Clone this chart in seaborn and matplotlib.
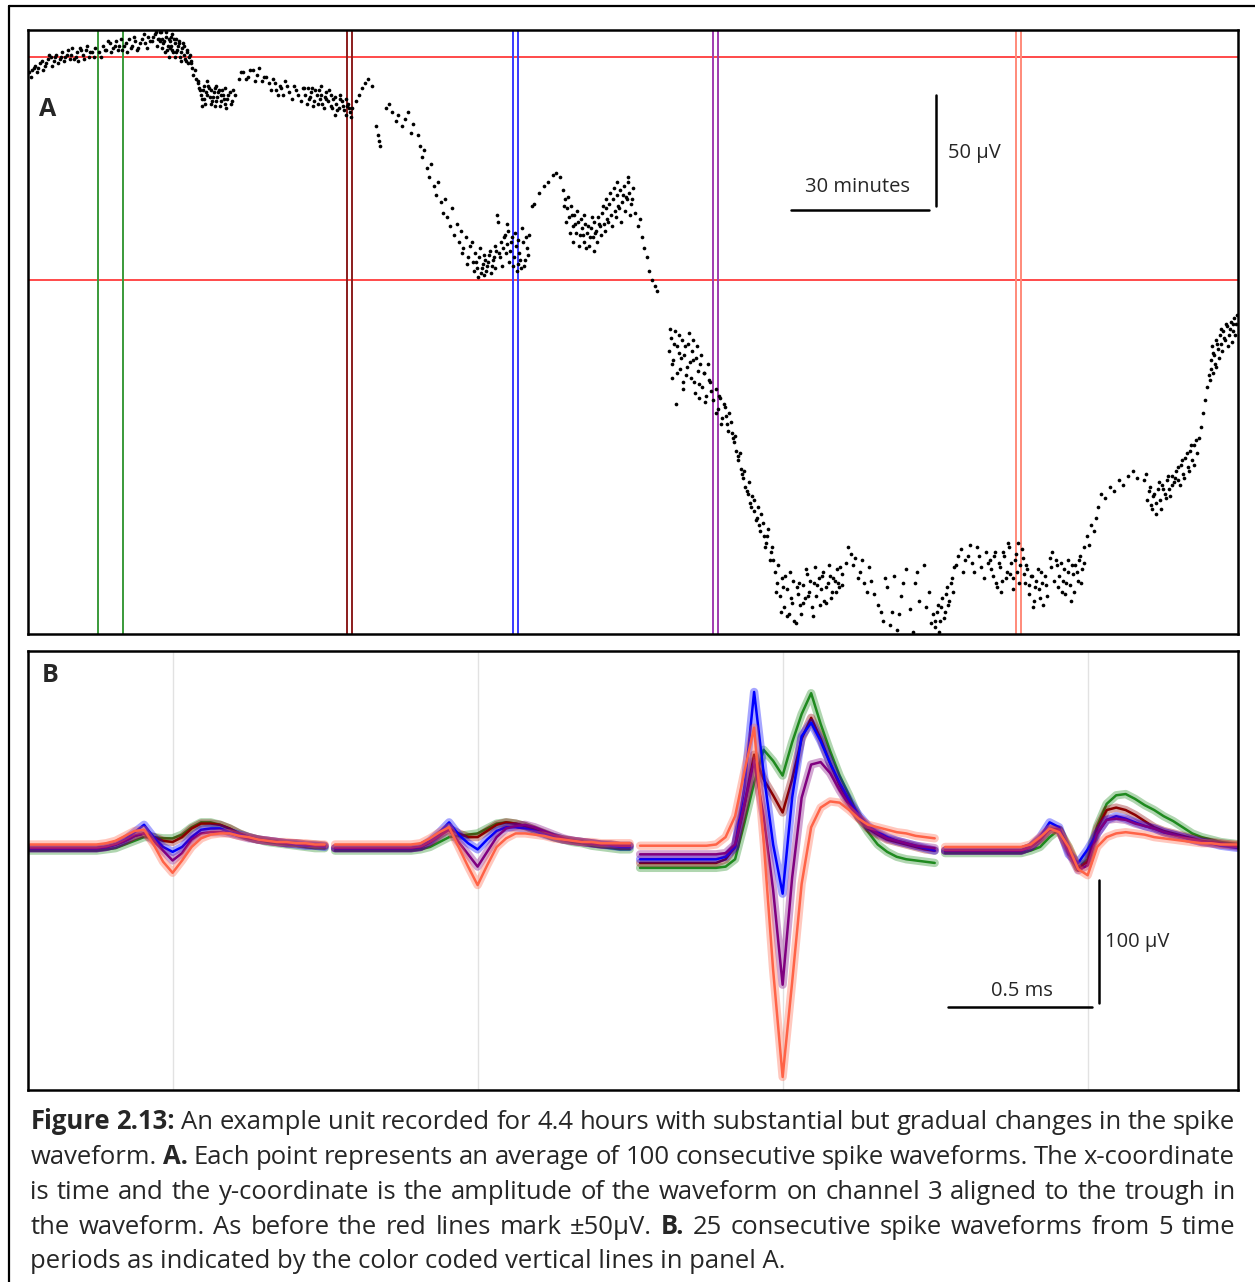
import numpy as np
import pandas as pd
import matplotlib
matplotlib.use('Agg')
import matplotlib.pyplot as plt
import seaborn as sns
from matplotlib.lines import Line2D

# --- panel A: drift of the trough amplitude over 4.4 hours ---
drift_min = [
    0.3, 0.8, 1.5, 2.2, 3.0, 3.6, 4.3, 5.0, 5.6, 6.2, 6.9, 7.5, 8.1, 8.8, 9.4, 10.0, 10.7, 11.3, 12.0, 12.6, 13.3, 14.0, 14.6,
    15.5, 16.3, 17.0, 17.8, 18.5, 19.2, 19.9, 20.6, 21.3, 22.0, 22.7, 23.4, 24.1, 24.8, 25.5, 26.2,
    27.0, 27.6, 28.3, 29.0, 29.5, 29.8, 30.0, 30.5, 30.8, 31.0, 31.5, 31.8, 32.0, 32.4, 32.8, 33.0, 33.2, 33.6, 34.0, 34.4, 34.8, 35.2, 35.6,
    35.8, 36.1, 36.4, 36.7, 37.0, 37.3, 37.7, 38.1, 38.5, 38.9, 39.3, 39.7, 40.1, 40.5, 40.9, 41.3, 41.7, 42.1, 42.5, 43.0, 43.5, 44.0, 44.6, 45.2,
    46.0, 47.0, 48.0, 49.0, 50.0, 51.0, 52.0, 53.0, 53.8, 54.5, 55.3, 56.0, 57.0, 58.0, 59.0, 60.0,
    60.5, 61.2, 61.8, 62.0, 62.4, 63.0, 63.6, 64.2, 64.8, 65.0, 65.4, 66.0, 66.6, 67.2, 67.8, 68.0, 68.4, 69.0, 69.6, 70.2, 70.8,
    71.5, 72.2, 72.8, 73.5, 74.2, 75.0, 76.0, 76.3, 76.6, 76.9, 78.0, 78.8, 79.5, 80.2, 80.8, 81.5, 82.3, 83.0, 83.5,
    84.0, 85.0, 85.5, 86.0, 86.5, 87.0, 87.5, 88.0, 88.5, 89.0, 89.5, 90.0, 90.5, 91.0, 91.5, 92.0, 92.5, 93.0, 93.5, 94.0, 94.5, 95.0, 95.5, 96.0, 96.5,
    97.0, 97.5, 98.0, 98.4, 98.8, 99.2, 99.6, 100.0, 100.4, 100.8, 101.2, 101.6, 102.0, 102.3, 102.5, 102.8, 103.2, 103.6,
    104.0, 104.4, 104.8, 105.2, 105.6, 106.0, 106.4, 106.8, 107.2, 107.6, 108.0, 108.4, 108.8, 109.2,
    110.0, 110.5, 111.5, 112.5, 113.5, 114.5, 115.3, 116.0,
    116.8, 117.2, 117.6, 118.0, 118.4, 118.8, 119.2, 119.6, 120.0, 120.4, 120.8, 121.2, 121.6, 122.0, 122.4, 122.8, 123.2, 123.6, 124.0, 124.4, 124.8,
    125.2, 125.6, 126.0, 126.4, 126.8, 127.2, 127.6, 128.0, 128.4, 128.8, 129.2, 129.6, 130.0, 130.4, 130.8, 131.2, 131.6, 132.0,
    132.5, 133.0, 133.5, 134.0, 134.5, 135.0, 135.5, 136.2, 136.8, 137.3,
    139.8, 140.3, 140.8, 141.2, 141.4, 141.7, 142.2, 142.6, 143.1, 143.5, 144.0, 144.4, 144.9, 145.3, 145.8, 146.2, 146.7, 147.1, 147.6, 148.0, 148.5, 149.0,
    149.5, 150.0, 150.5, 151.0, 151.5, 152.0, 152.5, 153.0, 153.5, 154.0, 154.5, 155.0, 155.5, 156.0, 156.5, 157.0, 157.5, 158.0, 158.5, 159.0,
    159.5, 160.0, 160.5, 161.0, 161.5, 162.0, 162.5,
    163.0, 163.5, 164.0, 164.5, 165.0, 165.5, 166.0, 166.5, 167.0, 167.5, 168.0, 168.5, 169.0, 169.5, 170.0, 170.5, 171.0, 171.5, 172.0, 172.5,
    173.0, 173.5, 174.0, 174.5, 175.0, 175.5, 176.0, 176.5, 177.0, 177.5,
    178.5, 179.5, 180.5, 181.5, 182.5, 183.5, 184.5,
    185.5, 186.5, 187.5, 188.5, 189.0, 189.5, 190.5, 191.5, 192.5, 193.5, 194.5, 195.5, 196.5, 197.0,
    197.5, 198.0, 198.5, 199.0, 199.5, 200.0, 200.5, 201.0, 201.5, 202.0,
    202.5, 203.5, 204.5, 205.5, 206.5, 207.5, 208.5, 209.5,
    210.0, 210.5, 211.0, 211.5, 212.0, 212.5, 213.0, 213.5, 214.0, 214.5, 215.0, 215.5, 216.0, 216.5, 217.0, 217.5, 218.0, 218.5, 219.0, 219.5,
    220.0, 220.5, 221.0, 221.5, 222.0,
    223.0, 223.5, 224.5, 225.0, 225.5, 226.0, 226.5, 227.0, 227.5, 228.0, 228.5, 229.0, 229.5, 230.0, 230.5,
    231.0, 231.5, 232.0, 232.5, 233.0, 233.5, 234.0, 235.0, 236.0, 237.0, 238.0, 239.0, 240.0, 241.0, 242.0, 243.5, 244.0,
    244.5, 245.0, 245.5, 246.0, 246.5, 247.0, 247.5, 248.0, 248.5, 249.0, 249.5, 250.0,
    250.5, 251.0, 251.5, 252.0, 252.5, 253.0, 253.5, 254.0, 254.5, 255.0, 255.5, 256.0, 256.4, 256.8, 257.2, 257.6,
    258.0, 258.4, 258.8, 259.2, 259.6, 260.0, 260.4, 260.8, 261.2, 261.6, 262.0, 262.4, 262.8, 263.2, 263.6,
]
drift_uv = [
    43, 44, 46, 45, 48, 46, 49, 50, 48, 51, 49, 52, 50, 53, 51, 49, 52, 54, 51, 53, 50, 52, 54,
    52, 55, 53, 56, 54, 57, 55, 53, 56, 58, 55, 57, 54, 58, 56, 59,
    57, 60, 58, 61, 56, 52, 59, 55, 50, 57, 53, 58, 56, 52, 55, 57, 50, 54, 51, 48, 53, 50, 47,
    45, 42, 44, 40, 38, 36, 33, 35, 31, 34, 37, 32, 30, 34, 28, 32, 35, 30, 33, 29, 31, 34, 30, 33,
    40, 43, 41, 44, 42, 39, 41, 35, 38, 33, 36, 39, 34, 37, 33, 36,
    33, 31, 34, 36, 30, 33, 31, 29, 32, 34, 30, 28, 31, 29, 27, 33, 30, 26, 28, 25, 27,
    30, 33, 36, 38, 40, 37, 19, 15, 12, 10, 27, 29, 25, 21, 24, 19, 22, 25, 16,
    20, 15, 10, 5, 8, 0, -4, 2, -8, -12, -6, -15, -20, -14, -22, -26, -18, -30, -25, -33, -28, -36, -31, -40, -35,
    -42, -38, -45, -40, -47, -43, -39, -46, -42, -37, -44, -40, -35, -21, -24, -38, -33, -36,
    -30, -34, -28, -37, -31, -40, -35, -43, -38, -45, -33, -41, -36, -30,
    -17, -16, -11, -8, -6, -3, -2, -4,
    -10, -14, -18, -22, -17, -26, -21, -29, -24, -30, -27, -33, -25, -29, -35, -27, -31, -24, -28, -22, -26,
    -20, -25, -18, -23, -16, -21, -14, -19, -12, -17, -10, -15, -8, -13, -6, -11, -16, -9,
    -20, -26, -23, -31, -36, -40, -46, -50, -53, -55,
    -82, -76, -86, -73, -106, -80, -90, -77, -84, -93, -79, -87, -82, -96, -85, -91, -88, -98, -92, -102, -95, -100,
    -104, -99, -108, -103, -112, -107, -115, -110, -119, -123, -127, -131, -135, -139, -143, -146, -150, -147, -154, -157,
    -160, -155, -165, -168, -162, -172, -176,
    -181, -186, -192, -184, -197, -189, -200, -193, -185, -204, -191, -196, -187, -193, -182, -190, -197, -186, -192, -184,
    -189, -181, -195, -186, -183, -190, -185, -180, -188, -182,
    -177, -173, -175, -181, -186, -179, -191,
    -196, -203, -188, -199, -183, -207, -192, -180, -198, -186, -194, -178, -190, -204,
    -200, -206, -196, -203, -193, -199, -188, -194, -184, -179,
    -178, -171, -176, -169, -181, -174, -184, -177,
    -176, -183, -172, -188, -179, -185, -174, -181, -170, -177, -184, -173, -168, -178, -175, -186, -180, -191, -183, -194,
    -185, -189, -181, -196, -187,
    -175, -172, -178, -183, -190, -180, -186, -176, -194, -182, -178, -185, -174, -180, -170,
    -165, -169, -160, -163, -157, -152, -146, -148, -143, -145, -140, -142, -138, -136, -139, -140, -137,
    -145, -151, -147, -155, -144, -149, -142, -146, -140, -144, -138, -141,
    -136, -140, -133, -137, -130, -134, -127, -131, -124, -128, -121, -116, -110, -104, -98, -93,
    -86, -80, -84, -77, -81, -75, -79, -73, -77, -71, -75, -69, -73, -67, -70,
]

# more points read from the dense clusters
cluster_min = [
    0.6, 1.2, 1.9, 2.6, 3.3, 4.0, 4.6, 5.3, 5.9, 6.6, 7.2, 7.8, 8.5, 9.1, 9.7, 10.4, 11.0, 11.6, 12.3, 12.9, 13.6, 14.3,
    15.9, 16.7, 17.4, 18.1, 18.9, 19.6, 20.3, 21.0, 21.7, 22.4, 23.1, 23.8, 24.5, 25.2, 25.9, 26.6,
    27.3, 27.9, 28.1, 28.6, 28.9, 29.3, 29.7, 30.2, 30.4, 30.7, 31.2, 31.4, 31.7, 32.2, 32.6, 32.9, 33.4, 33.8, 34.2, 34.6,
    35.0, 35.4, 28.8, 30.9, 32.1, 33.3, 34.1, 35.5, 31.1, 29.2,
    37.1, 37.5, 37.9, 38.3, 38.7, 39.1, 39.5, 39.9, 40.3, 40.7, 41.1, 41.5, 41.9, 42.3, 42.7, 43.2, 43.7, 44.2, 44.8,
    38.0, 39.0, 40.0, 41.0, 42.0, 43.0,
    46.5, 47.5, 48.5, 49.5, 50.5, 51.5, 52.5, 53.4, 54.2, 54.9, 55.7, 56.5, 57.5, 58.5, 59.5,
    60.2, 60.8, 61.5, 62.1, 62.7, 63.3, 63.9, 64.5, 65.1, 65.7, 66.3, 66.9, 67.5, 68.1, 68.7, 69.3, 69.9, 70.5,
    61.0, 63.5, 66.2, 69.4, 70.0, 64.0, 67.0,
    94.8, 95.8, 96.8, 97.2, 97.8, 98.2, 98.6, 99.0, 99.4, 99.8, 100.2, 100.6, 101.0, 101.4, 101.8, 102.2, 103.0, 103.4, 103.8,
    104.2, 104.6, 105.0, 105.4, 105.8, 106.2, 106.6, 107.0, 107.4, 107.8, 108.2, 108.6, 109.0,
    117.0, 117.4, 117.8, 118.2, 118.6, 119.0, 119.4, 119.8, 120.2, 120.6, 121.0, 121.4, 121.8, 122.2, 122.6, 123.0, 123.4, 123.8,
    124.2, 124.6, 125.0, 125.4, 125.8, 126.2, 126.6, 127.0, 127.4, 127.8, 128.2, 128.6, 129.0, 129.4, 129.8, 130.2, 130.6, 131.0,
    131.4, 131.8,
    140.0, 140.5, 141.0, 141.5, 142.0, 142.4, 142.8, 143.3, 143.8, 144.2, 144.7, 145.1, 145.6, 146.0, 146.5, 146.9, 147.4, 147.8,
    148.3, 148.8, 140.6, 142.0, 143.0, 145.0, 146.4,
    150.2, 150.8, 151.3, 151.8, 152.3, 152.8, 153.3, 153.8, 154.3, 154.8, 155.3, 155.8, 156.3, 156.8, 157.3, 157.8, 158.3, 158.8,
    159.3, 159.8, 160.3, 160.8, 161.3, 161.8, 162.3,
    163.2, 163.7, 164.2, 164.7, 165.2, 165.7, 166.2, 166.7, 167.2, 167.7, 168.2, 168.7, 169.2, 169.7, 170.2, 170.7, 171.2, 171.7,
    172.2, 172.7, 173.2, 173.7, 174.2, 174.7, 175.2, 175.7, 176.2, 176.7, 177.2, 177.7,
    179.0, 180.0, 181.0, 182.0, 183.0, 184.0, 186.0, 187.0, 188.0, 190.0, 191.0, 193.0, 194.0, 196.0,
    197.8, 198.3, 198.8, 199.3, 199.8, 200.3, 200.8, 201.3, 201.8, 203.0, 204.0, 205.0, 206.0, 207.0, 208.0, 209.0,
    210.2, 210.8, 211.3, 211.8, 212.3, 212.8, 213.3, 213.8, 214.3, 214.8, 215.3, 215.8, 216.3, 216.8, 217.3, 217.8, 218.3, 218.8,
    219.3, 219.8, 220.3, 220.8, 221.3, 221.8, 222.3, 223.2, 223.8, 224.2, 224.8, 225.3, 225.8, 226.3, 226.8, 227.3, 227.8, 228.3,
    228.8, 229.3, 229.8, 230.3,
    244.2, 244.7, 245.2, 245.7, 246.2, 246.7, 247.2, 247.7, 248.2, 248.7, 249.2, 249.7, 250.2, 250.8, 251.3, 251.8, 252.3, 252.8,
    253.3, 253.8, 254.3, 254.8,
    258.2, 258.6, 259.0, 259.4, 259.8, 260.2, 260.6, 261.0, 261.4, 261.8, 262.2, 262.6, 263.0, 263.4, 263.8, 257.9, 258.5, 259.1,
]
cluster_uv = [
    41, 45, 43, 47, 44, 47, 51, 46, 50, 47, 50, 48, 51, 49, 54, 50, 48, 53, 49, 55, 52, 50,
    50, 53, 57, 52, 55, 53, 58, 55, 52, 54, 59, 53, 56, 60, 54, 57,
    59, 61, 55, 58, 61, 54, 57, 61, 53, 58, 55, 60, 52, 58, 53, 56, 52, 56, 49, 52,
    47, 51, 57, 54, 50, 48, 55, 48, 59, 58,
    39, 35, 31, 37, 29, 33, 36, 29, 32, 36, 30, 34, 28, 35, 31, 27, 33, 29, 35,
    28, 39, 35, 37, 33, 36,
    43, 40, 44, 39, 45, 41, 38, 40, 35, 37, 33, 37, 31, 35, 30,
    36, 29, 32, 28, 35, 29, 33, 27, 31, 35, 27, 32, 26, 31, 28, 24, 29, 23,
    36, 35, 33, 31, 27, 37, 24,
    -38, -43, -33, -46, -42, -49, -36, -45, -48, -41, -44, -39, -47, -41, -45, -37, -40, -44, -31,
    -38, -25, -42, -33, -44, -29, -46, -32, -41, -27, -44, -31, -39,
    -17, -24, -13, -29, -21, -33, -25, -19, -35, -23, -30, -21, -36, -26, -31, -22, -37, -29,
    -33, -25, -30, -17, -28, -14, -24, -11, -26, -9, -22, -6, -18, -24, -12, -19, -14, -4,
    -21, -14,
    -72, -88, -79, -92, -75, -85, -96, -80, -89, -74, -94, -86, -101, -80, -97, -84, -92, -105,
    -88, -96, -94, -83, -99, -77, -103,
    -110, -102, -115, -106, -111, -118, -114, -121, -120, -129, -128, -137, -136, -145, -141, -152, -149, -158,
    -152, -163, -159, -170, -165, -176, -170,
    -190, -178, -199, -188, -183, -201, -181, -195, -203, -188, -186, -200, -195, -180, -192, -185, -201, -179,
    -187, -196, -183, -194, -188, -178, -193, -184, -190, -186, -179, -187,
    -170, -178, -184, -176, -190, -185, -199, -184, -205, -200, -186, -208, -181, -197,
    -203, -199, -208, -197, -202, -191, -196, -186, -190, -174, -181, -174, -177, -170, -179, -172,
    -180, -174, -186, -177, -190, -172, -184, -168, -182, -189, -176, -181, -186, -171, -182, -178, -187, -183,
    -197, -188, -180, -193, -186, -183, -192, -179, -185, -176, -188, -177, -185, -191, -181, -187, -178, -190,
    -181, -176, -186, -177,
    -149, -143, -153, -146, -150, -141, -153, -144, -148, -138, -147, -142, -139, -134, -142, -131, -139, -128,
    -136, -124, -133, -122,
    -90, -83, -88, -79, -85, -72, -82, -76, -70, -80, -72, -78, -70, -75, -66, -95, -92, -89,
]

# the five sampling periods (start/end of each marked window, minutes)
period_names = ['p1', 'p2', 'p3', 'p4', 'p5']
period_start = [15.3, 69.6, 105.8, 149.5, 215.6]
period_end = [20.7, 70.7, 106.9, 150.6, 216.7]
marker_colors = ['#3a9a3a', '#8b1c1c', '#3a3aff', '#a03cb0', '#ff8a7a']
wave_colors = ['#1f8a1f', '#8b0000', '#0000ff', '#800080', '#ff6347']

# --- panel B: mean waveform of each period on the 4 channels (uV, 32 samples each) ---
wave_p1 = [
    [-3, -3, -3, -3, -3, -3, -3, -3, -2, -1, 2, 5, 8, 8, 7, 7, 10, 16, 20, 20, 18, 15, 11, 8, 6, 4, 3, 2, 1, 0, -1, -1],
    [-3, -3, -3, -3, -3, -3, -3, -3, -3, -2, 0, 4, 8, 9, 10, 11, 15, 19, 20, 19, 17, 14, 11, 8, 6, 4, 3, 1, 0, -1, -2, -2],
    [-17, -17, -17, -17, -17, -17, -17, -17, -17, -16, -10, 20, 52, 79, 70, 58, 85, 108, 125, 100, 78, 58, 42, 24, 12, 2, -4, -8, -10, -11, -12, -13],
    [-5, -5, -5, -5, -5, -5, -5, -5, -5, -3, 0, 8, 14, 0, -17, -10, 17, 35, 42, 43, 39, 34, 30, 25, 21, 16, 11, 8, 6, 4, 3, 2],
]
wave_p2 = [
    [-1, -1, -1, -1, -1, -1, -1, -1, 0, 2, 5, 9, 11, 8, 5, 4, 8, 15, 19, 19, 18, 15, 11, 8, 6, 5, 4, 3, 3, 2, 2, 1],
    [-1, -1, -1, -1, -1, -1, -1, -1, -1, 0, 4, 10, 15, 11, 8, 8, 13, 18, 20, 19, 17, 14, 11, 8, 6, 5, 4, 3, 2, 2, 1, 1],
    [-13, -13, -13, -13, -13, -13, -13, -13, -13, -10, 0, 35, 75, 55, 42, 28, 55, 88, 105, 88, 68, 50, 36, 24, 15, 10, 6, 4, 2, 0, -2, -3],
    [-3, -3, -3, -3, -3, -3, -3, -3, -3, 0, 6, 15, 14, -2, -17, -12, 15, 30, 32, 30, 26, 21, 16, 13, 11, 9, 7, 5, 4, 3, 2, 1],
]
wave_p3 = [
    [-1, -1, -1, -1, -1, -1, -1, -1, 0, 2, 6, 12, 18, 8, 0, -4, 0, 8, 14, 15, 15, 12, 10, 8, 6, 5, 4, 3, 2, 1, 1, 0],
    [-1, -1, -1, -1, -1, -1, -1, -1, -1, 0, 5, 12, 20, 10, 3, -2, 6, 13, 16, 16, 15, 13, 10, 8, 6, 5, 4, 3, 2, 1, 0, 0],
    [-10, -10, -10, -10, -10, -10, -10, -10, -10, -8, 0, 50, 126, 60, 2, -38, 40, 90, 101, 86, 68, 52, 38, 26, 17, 12, 8, 5, 3, 1, -1, -3],
    [-3, -3, -3, -3, -3, -3, -3, -3, -3, 0, 8, 20, 16, -6, -13, -2, 11, 22, 25, 23, 20, 17, 15, 12, 10, 8, 6, 4, 3, 1, 0, -1],
]
wave_p4 = [
    [-1, -1, -1, -1, -1, -1, -1, -1, 0, 2, 5, 9, 11, 5, -3, -11, -5, 6, 11, 12, 12, 11, 9, 7, 6, 5, 4, 3, 3, 2, 1, 1],
    [-1, -1, -1, -1, -1, -1, -1, -1, -1, 0, 4, 9, 14, 4, -6, -16, -4, 8, 15, 17, 18, 16, 13, 10, 7, 5, 4, 3, 2, 2, 1, 1],
    [-6, -6, -6, -6, -6, -6, -6, -6, -6, -5, 2, 35, 70, 25, -35, -112, -25, 40, 67, 69, 60, 46, 34, 24, 16, 11, 7, 5, 3, 1, 0, -1],
    [-3, -3, -3, -3, -3, -3, -3, -3, -3, 0, 7, 14, 14, -4, -19, -15, 11, 22, 23, 22, 19, 17, 15, 12, 10, 8, 6, 4, 3, 2, 1, 0],
]
wave_p5 = [
    [2, 2, 2, 2, 2, 2, 2, 2, 3, 5, 9, 13, 14, 2, -12, -21, -11, 0, 7, 10, 11, 11, 9, 8, 6, 5, 4, 4, 3, 3, 2, 2],
    [2, 2, 2, 2, 2, 2, 2, 2, 2, 3, 7, 12, 16, 0, -16, -31, -15, 0, 7, 11, 11, 10, 9, 7, 6, 5, 4, 4, 3, 3, 3, 3],
    [1, 1, 1, 1, 1, 1, 1, 1, 2, 8, 25, 62, 97, 5, -100, -187, -110, -30, 16, 32, 37, 36, 30, 23, 18, 16, 14, 12, 11, 9, 8, 7],
    [0, 0, 0, 0, 0, 0, 0, 0, 0, 2, 8, 15, 12, 0, -18, -23, 0, 8, 11, 12, 11, 10, 8, 7, 6, 5, 4, 3, 3, 2, 2, 2],
]
waves = [wave_p1, wave_p2, wave_p3, wave_p4, wave_p5]

sample_ms = 0.033      # sample spacing
channel_pitch = 1.059  # the 4 channels are laid end to end
trough_sample = 15

caption_lines = [
    [('Figure 2.13:', True), ('An example unit recorded for 4.4 hours with substantial but gradual changes in the spike', False)],
    [('waveform.', False), ('A.', True), ('Each point represents an average of 100 consecutive spike waveforms. The x-coordinate', False)],
    [('is time and the y-coordinate is the amplitude of the waveform on channel 3 aligned to the trough in', False)],
    [('the waveform. As before the red lines mark \u00b150\u00b5V.', False), ('B.', True), ('25 consecutive spike waveforms from 5 time', False)],
]
caption_last = 'periods as indicated by the color coded vertical lines in panel A.'

sns.set_theme(style='white')
plt.rcParams['font.family'] = ['Open Sans', 'DejaVu Sans']

W, H = 1255, 1282
fig = plt.figure(figsize=(W / 100, H / 100), dpi=100)

# outer frame: only the top and left edges fall inside the picture
fig.add_artist(Line2D([9 / W, 9 / W], [0, 1 - 6 / H], transform=fig.transFigure, color='black', lw=1.6))
fig.add_artist(Line2D([9 / W, 1], [1 - 6 / H, 1 - 6 / H], transform=fig.transFigure, color='black', lw=1.6))

# ---------------- panel A ----------------
axA = fig.add_axes([28 / W, 1 - 634 / H, 1210 / W, 604 / H])
sns.scatterplot(x=drift_min + cluster_min, y=drift_uv + cluster_uv, ax=axA, color='black', s=7, linewidth=0, zorder=3)
for lev in [50, -50]:
    axA.axhline(lev, color='#ff3b3b', lw=1.3, zorder=1)
for t0, t1, c in zip(period_start, period_end, marker_colors):
    axA.axvline(t0, color=c, lw=1.4, zorder=2)
    axA.axvline(t1, color=c, lw=1.4, zorder=2)
axA.set_xlim(0, 264)
axA.set_ylim(-209, 62)

# scale bars
axA.plot([198.1, 198.1], [-17, 33], color='black', lw=1.8)
axA.plot([166.5, 196.5], [-18.6, -18.6], color='black', lw=1.8)
axA.text(200.7, 7, '50 \u00b5V', fontsize=14.5, ha='left', va='center')
axA.text(180.9, -8.3, '30 minutes', fontsize=14.5, ha='center', va='center')
axA.text(0.0165, 0.868, 'A', transform=axA.transAxes, fontsize=18, fontweight='bold', ha='center', va='center')

# ---------------- panel B ----------------
rows = []
for name, per in zip(period_names, waves):
    for ch, vals in enumerate(per):
        for i, v in enumerate(vals):
            rows.append({'period': name, 'channel': ch, 'ms': ch * channel_pitch + i * sample_ms, 'uV': v})
df = pd.DataFrame(rows)

axB = fig.add_axes([28 / W, 1 - 1090 / H, 1210 / W, 439 / H])
for ch in range(4):
    axB.axvline(ch * channel_pitch + trough_sample * sample_ms, color='#e2e2e2', lw=1.0, zorder=0)
for name, c in zip(period_names, wave_colors):
    sub = df[df['period'] == name]
    sns.lineplot(data=sub, x='ms', y='uV', units='channel', estimator=None, sort=False,
                 color=c, lw=6, alpha=0.35, ax=axB, legend=False)
    sns.lineplot(data=sub, x='ms', y='uV', units='channel', estimator=None, sort=False,
                 color=c, lw=1.8, ax=axB, legend=False)
axB.set_xlim(-0.007, 4.194)
axB.set_ylim(-197.6, 159.3)

axB.plot([3.712, 3.712], [-27, -127], color='black', lw=1.8)
axB.plot([3.187, 3.687], [-130, -130], color='black', lw=1.8)
axB.text(3.733, -77, '100 \u00b5V', fontsize=14.5, ha='left', va='center')
axB.text(3.445, -117, '0.5 ms', fontsize=14.5, ha='center', va='center')
axB.text(0.018, 0.945, 'B', transform=axB.transAxes, fontsize=18, fontweight='bold', ha='center', va='center')

for ax in [axA, axB]:
    ax.set_xticks([])
    ax.set_yticks([])
    ax.set_xlabel('')
    ax.set_ylabel('')
    for sp in ax.spines.values():
        sp.set_visible(True)
        sp.set_color('black')
        sp.set_linewidth(1.8)

# ---------------- caption (justified lines) ----------------
x_left, x_right = 30.5, 1235
baselines = [1129, 1164, 1199, 1234, 1268]
fig.canvas.draw()
rend = fig.canvas.get_renderer()

# pick the size so the last (unjustified) line is as long as in the source
last = fig.text(x_left / W, 1 - baselines[4] / H, caption_last, fontsize=15, ha='left', va='baseline')
cap_size = 15 * 755 / last.get_window_extent(rend).width
last.set_fontsize(cap_size)

for line, base in zip(caption_lines, baselines[:4]):
    words = []
    for txt, bold in line:
        for w in txt.split():
            words.append((w, bold))
    objs = [fig.text(0, 1 - base / H, w, fontsize=cap_size, fontweight='bold' if b else 'normal',
                     ha='left', va='baseline') for w, b in words]
    widths = [o.get_window_extent(rend).width for o in objs]
    gap = (x_right - x_left - sum(widths)) / (len(objs) - 1)
    x = x_left
    for o, w in zip(objs, widths):
        o.set_x(x / W)
        x += w + gap

fig.savefig('out.png', dpi=100)
